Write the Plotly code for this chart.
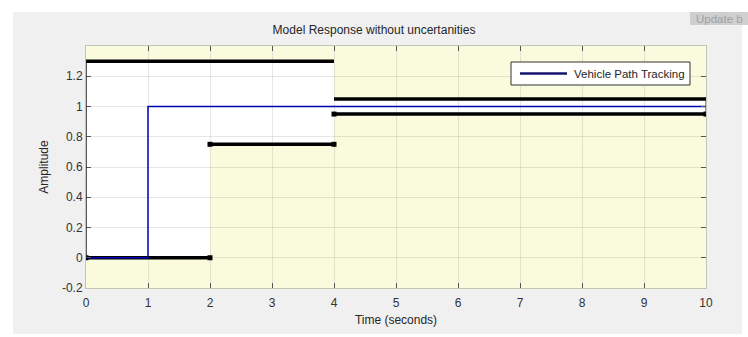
import plotly.graph_objects as go

# ---- data ----
step_t = [0, 1, 1, 10]
step_y = [0, 0, 1, 1]

lower_t0 = [0, 2, 4]
lower_t1 = [2, 4, 10]
lower_val = [0, 0.75, 0.95]

upper_t0 = [0, 4]
upper_t1 = [4, 10]
upper_val = [1.3, 1.05]

x_ticks = [0, 1, 2, 3, 4, 5, 6, 7, 8, 9, 10]
y_ticks = [-0.2, 0, 0.2, 0.4, 0.6, 0.8, 1, 1.2]
y_ticktext = ["-0.2", "0", "0.2", "0.4", "0.6", "0.8", "1", "1.2"]

series_name = "Vehicle Path Tracking"

# ---- layout geometry (pixels) ----
W, H = 748, 337
L, R, T, B = 86, 706, 46, 288
pw, ph = R - L, B - T


def px(x):
    return (x - L) / pw


def py(y):
    return (B - y) / ph


FONT = "Liberation Sans, Arial, sans-serif"
YELLOW = "#fafadc"

fig = go.Figure()
shapes = []


def upper_at(t0, t1):
    for a, b, v in zip(upper_t0, upper_t1, upper_val):
        if a <= t0 and t1 <= b:
            return v
    return None


# white "allowed" region between bounds (drawn below grid)
for a, b, lo in zip(lower_t0, lower_t1, lower_val):
    up = upper_at(a, b)
    shapes.append(dict(type="rect", xref="x", yref="y", x0=a, x1=b, y0=lo, y1=up,
                       fillcolor="white", line=dict(width=0), layer="below"))

# dark patch edges at left and right
shapes.append(dict(type="line", xref="x", yref="y", x0=lower_t0[0], x1=lower_t0[0],
                   y0=lower_val[0], y1=upper_val[0], line=dict(color="#222222", width=1.5),
                   layer="above"))
shapes.append(dict(type="line", xref="x", yref="y", x0=lower_t1[-1], x1=lower_t1[-1],
                   y0=lower_val[-1], y1=upper_val[-1], line=dict(color="#333355", width=1),
                   layer="above"))

# white page borders outside the gray figure panel
shapes += [
    dict(type="rect", xref="paper", yref="paper", x0=px(-20), x1=px(13), y0=py(-20), y1=py(360),
         fillcolor="white", line=dict(width=0), layer="below"),
    dict(type="rect", xref="paper", yref="paper", x0=px(742), x1=px(770), y0=py(-20), y1=py(360),
         fillcolor="white", line=dict(width=0), layer="below"),
    dict(type="rect", xref="paper", yref="paper", x0=px(-20), x1=px(770), y0=py(12), y1=py(-20),
         fillcolor="white", line=dict(width=0), layer="below"),
    dict(type="rect", xref="paper", yref="paper", x0=px(-20), x1=px(770), y0=py(360), y1=py(334),
         fillcolor="white", line=dict(width=0), layer="below"),
    # Update button
    dict(type="rect", xref="paper", yref="paper", x0=px(690), x1=px(770), y0=py(25), y1=py(12),
         fillcolor="#cfcfcf", line=dict(width=0), layer="below"),
    # legend box
    dict(type="rect", xref="paper", yref="paper", x0=px(511), x1=px(690), y0=py(85), y1=py(62),
         fillcolor="white", line=dict(color="#333333", width=1), layer="above"),
    dict(type="line", xref="paper", yref="paper", x0=px(520), x1=px(567), y0=py(73.5), y1=py(73.5),
         line=dict(color="#14146e", width=2.5), layer="above"),
]

# bound segments (black thick)
for a, b, v in zip(lower_t0, lower_t1, lower_val):
    fig.add_trace(go.Scatter(x=[a, b], y=[v, v], mode="lines+markers",
                             line=dict(color="black", width=3.5),
                             marker=dict(symbol="square", size=5, color="black"),
                             showlegend=False, hoverinfo="skip"))
for a, b, v in zip(upper_t0, upper_t1, upper_val):
    fig.add_trace(go.Scatter(x=[a, b], y=[v, v], mode="lines",
                             line=dict(color="black", width=3.5),
                             showlegend=False, hoverinfo="skip"))

# step response
fig.add_trace(go.Scatter(x=step_t, y=step_y, mode="lines", name=series_name,
                         line=dict(color="#0000b4", width=1.5), showlegend=False))

fig.update_layout(
    width=W, height=H,
    margin=dict(l=L, r=W - R, t=T, b=H - B),
    paper_bgcolor="#f0f0f0",
    plot_bgcolor=YELLOW,
    font=dict(family=FONT, size=12, color="#262626"),
    title=dict(text="Model Response without uncertanities", x=px(396), xanchor="center",
               y=1 - 30 / H, yanchor="middle", font=dict(size=12, color="#262626")),
    shapes=shapes,
    showlegend=False,
    annotations=[
        dict(text="Update b", xref="paper", yref="paper", x=px(694), y=py(18.5),
             xanchor="left", yanchor="middle", showarrow=False,
             font=dict(size=11.5, color="#a0a0a0")),
        dict(text=series_name, xref="paper", yref="paper", x=px(572), y=py(73.5),
             xanchor="left", yanchor="middle", showarrow=False,
             font=dict(size=11.5, color="#262626")),
    ],
)

axis_common = dict(showline=True, linecolor="#c4c4b4", linewidth=1, mirror="ticks",
                   ticks="inside", ticklen=5, tickcolor="#555555", tickwidth=1,
                   showgrid=True, gridcolor="rgba(140,140,140,0.22)", gridwidth=1,
                   zeroline=False, tickfont=dict(size=12, color="#333333"))

fig.update_xaxes(range=[0, 10], tickvals=x_ticks, ticktext=[str(v) for v in x_ticks],
                 ticklabelstandoff=4,
                 title=dict(text="Time (seconds)", font=dict(size=12, color="#262626"), standoff=6),
                 **axis_common)
fig.update_yaxes(range=[-0.2, 1.4], tickvals=y_ticks, ticktext=y_ticktext,
                 title=dict(text="Amplitude", font=dict(size=12, color="#262626"), standoff=10),
                 **axis_common)

fig.write_html("out.html")
